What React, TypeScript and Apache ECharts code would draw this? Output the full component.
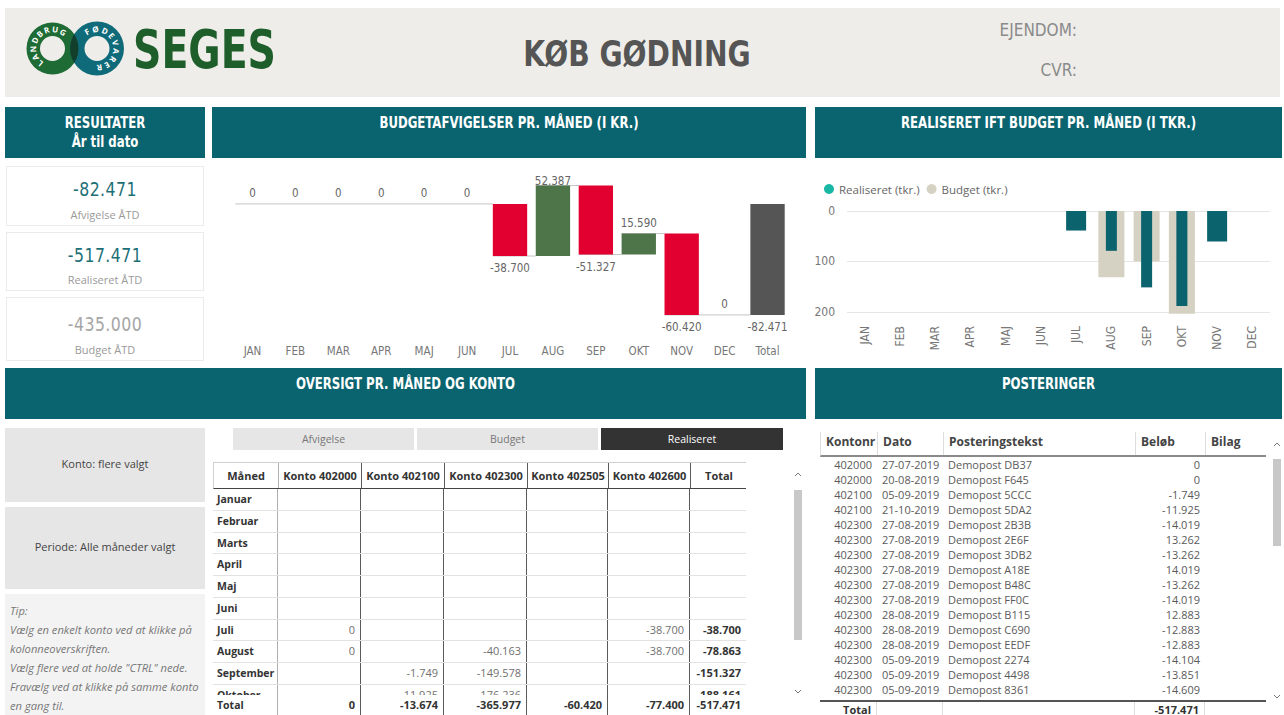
import React, { useEffect, useRef } from "react";
import * as echarts from "echarts";

// ---------- fonts / colours ----------
const NARROW = '"Liberation Sans Narrow", "Arial Narrow", "DejaVu Sans Condensed", sans-serif';
const SANS = '"Open Sans", "Noto Sans", sans-serif';
const TEAL = "#0A6470";

// ---------- data ----------
const months = ["JAN", "FEB", "MAR", "APR", "MAJ", "JUN", "JUL", "AUG", "SEP", "OKT", "NOV", "DEC"];
const totalCategory = "Total";
const deviationKr = [0, 0, 0, 0, 0, 0, -38700, 52387, -51327, 15590, -60420, 0];
const deviationTotalKr = -82471;

const realiseretTkr: (number | null)[] = [null, null, null, null, null, null, 38.7, 78.863, 151.327, 188.161, 60.42, null];
const budgetTkr: (number | null)[] = [null, null, null, null, null, null, null, 131.25, 100, 203.75, null, null];
const legendNames = ["Realiseret (tkr.)", "Budget (tkr.)"];

const kpiLabels = ["Afvigelse ÅTD", "Realiseret ÅTD", "Budget ÅTD"];
const kpiValues = [-82471, -517471, -435000];

const tableMonths = ["Januar", "Februar", "Marts", "April", "Maj", "Juni", "Juli", "August", "September", "Oktober"];
const kontoHeaders = ["Konto 402000", "Konto 402100", "Konto 402300", "Konto 402505", "Konto 402600"];
const konto402000 = [null, null, null, null, null, null, 0, 0, null, null];
const konto402100 = [null, null, null, null, null, null, null, null, -1749, -11925];
const konto402300 = [null, null, null, null, null, null, null, -40163, -149578, -176236];
const konto402505 = [null, null, null, null, null, null, null, null, null, null];
const konto402600 = [null, null, null, null, null, null, -38700, -38700, null, null];
const monthTotals = [null, null, null, null, null, null, -38700, -78863, -151327, -188161];
const kontoTotals = [0, -13674, -365977, -60420, -77400];
const grandTotal = -517471;
const viewButtons = ["Afvigelse", "Budget", "Realiseret"];

const tipLines = [
  "Tip:",
  "Vælg en enkelt konto ved at klikke på",
  "kolonneoverskriften.",
  'Vælg flere ved at holde "CTRL" nede.',
  "Fravælg ved at klikke på samme konto",
  "en gang til.",
];

const postHeaders = ["Kontonr", "Dato", "Posteringstekst", "Beløb", "Bilag"];
const postKonto = ["402000", "402000", "402100", "402100", "402300", "402300", "402300", "402300", "402300", "402300", "402300", "402300", "402300", "402300", "402300", "402300"];
const postDato = ["27-07-2019", "20-08-2019", "05-09-2019", "21-10-2019", "27-08-2019", "27-08-2019", "27-08-2019", "27-08-2019", "27-08-2019", "27-08-2019", "28-08-2019", "28-08-2019", "28-08-2019", "05-09-2019", "05-09-2019", "05-09-2019"];
const postTekst = ["Demopost DB37", "Demopost F645", "Demopost 5CCC", "Demopost 5DA2", "Demopost 2B3B", "Demopost 2E6F", "Demopost 3DB2", "Demopost A18E", "Demopost B48C", "Demopost FF0C", "Demopost B115", "Demopost C690", "Demopost EEDF", "Demopost 2274", "Demopost 4498", "Demopost 8361"];
const postBelob = [0, 0, -1749, -11925, -14019, 13262, -13262, 14019, -13262, -14019, 12883, -12883, -12883, -14104, -13851, -14609];
const postTotal = -517471;

function fmt(v: number): string {
  const r = Math.round(Math.abs(v));
  const s = String(r).replace(/\B(?=(\d{3})+(?!\d))/g, ".");
  return (v < 0 && r !== 0 ? "-" : "") + s;
}

// ---------- charts ----------
function WaterfallChart() {
  const ref = useRef<HTMLDivElement>(null);
  useEffect(() => {
    const chart = echarts.init(ref.current!, null, { renderer: "svg" });
    let cum = 0;
    const data: number[][] = deviationKr.map((d, i) => {
      const s = cum;
      cum += d;
      return [i, s, cum, d];
    });
    data.push([months.length, 0, deviationTotalKr, deviationTotalKr]);
    const lastIdx = months.length;
    chart.setOption({
      animation: false,
      grid: { left: 19, right: 17, top: 17, bottom: 26.5, outerBoundsMode: "none" },
      xAxis: {
        type: "category",
        data: [...months, totalCategory],
        axisLine: { show: false },
        axisTick: { show: false },
        axisLabel: { color: "#777", fontSize: 11.5, fontFamily: NARROW, margin: 6, interval: 0 },
      },
      yAxis: { type: "value", min: -100000, max: 20000, show: false },
      series: [
        {
          type: "custom",
          encode: { x: 0, y: [1, 2] },
          data,
          renderItem: (params: any, api: any) => {
            const i = api.value(0);
            const s = api.value(1);
            const e = api.value(2);
            const v = api.value(3);
            const band = api.size([1, 0])[0];
            const bw = band * 0.8;
            const a = api.coord([i, s]);
            const b = api.coord([i, e]);
            const x = a[0] - bw / 2;
            const top = Math.min(a[1], b[1]);
            const h = Math.abs(a[1] - b[1]);
            const isTotal = i === lastIdx;
            const color = isTotal ? "#555555" : v < 0 ? "#E1002F" : "#4E7449";
            const children: any[] = [];
            if (!isTotal) {
              children.push({
                type: "line",
                shape: { x1: x, y1: b[1], x2: x + band, y2: b[1] },
                style: { stroke: "#C4C4C4", lineWidth: 1 },
              });
            }
            if (h > 0.5) {
              children.push({ type: "rect", shape: { x, y: top, width: bw, height: h }, style: { fill: color } });
            }
            const cs = params.coordSys;
            const neg = v < 0;
            children.push({
              type: "text",
              style: {
                text: fmt(v),
                x: a[0],
                y: neg ? top + h + 6 : Math.max(top - 5, cs.y + 10),
                align: "center",
                verticalAlign: neg ? "top" : "bottom",
                fill: "#666",
                fontSize: 11.5,
                fontFamily: NARROW,
              },
            });
            return { type: "group", children };
          },
        },
      ],
    });
    return () => chart.dispose();
  }, []);
  return <div ref={ref} style={{ position: "absolute", left: 212, top: 160, width: 594, height: 205 }} />;
}

function RealBudgetChart() {
  const ref = useRef<HTMLDivElement>(null);
  useEffect(() => {
    const chart = echarts.init(ref.current!, null, { renderer: "svg" });
    const barColor = "#0B636E";
    const narrow = realiseretTkr.map((v, i) =>
      v != null && budgetTkr[i] != null ? { value: v, itemStyle: { color: barColor } } : "-"
    );
    const wide = realiseretTkr.map((v, i) =>
      v != null && budgetTkr[i] == null ? { value: v, itemStyle: { color: barColor } } : "-"
    );
    const hiddenAxis = { type: "category", data: months, show: false };
    chart.setOption({
      animation: false,
      legend: {
        data: legendNames,
        left: 4,
        top: 18,
        icon: "circle",
        itemWidth: 10,
        itemHeight: 10,
        itemGap: 7,
        textStyle: { color: "#666", fontSize: 11.5, fontFamily: SANS },
      },
      grid: { left: 32, right: 14, top: 51, bottom: 48, outerBoundsMode: "none" },
      xAxis: [
        {
          type: "category",
          data: months,
          axisLine: { show: false },
          axisTick: { show: false },
          axisLabel: { rotate: 90, color: "#777", fontSize: 12, fontFamily: NARROW, margin: 9, interval: 0 },
        },
        hiddenAxis,
        hiddenAxis,
      ],
      yAxis: {
        type: "value",
        inverse: true,
        min: 0,
        max: 210,
        interval: 100,
        axisLine: { show: false },
        axisTick: { show: false },
        axisLabel: { color: "#777", fontSize: 12, fontFamily: NARROW, margin: 12, showMaxLabel: false },
        splitLine: { show: true, showMaxLine: false, lineStyle: { color: "#E6E6E6", width: 1 } },
      },
      series: [
        { name: legendNames[1], type: "bar", xAxisIndex: 0, data: budgetTkr.map((v) => (v == null ? "-" : v)), barWidth: 26, itemStyle: { color: "#D5D2C3" } },
        { name: legendNames[0], type: "bar", xAxisIndex: 1, data: narrow, barWidth: 11, itemStyle: { color: "#19B8A5" } },
        { name: legendNames[0], type: "bar", xAxisIndex: 2, data: wide, barWidth: 20, itemStyle: { color: "#19B8A5" } },
      ],
    });
    return () => chart.dispose();
  }, []);
  return <div ref={ref} style={{ position: "absolute", left: 815, top: 160, width: 469, height: 205 }} />;
}

// ---------- static pieces ----------
function Logo() {
  const L = { cx: 52.5, cy: 48.5 };
  const R = { cx: 97, cy: 48.5 };
  const annulus = (cx: number, cy: number, ro: number, ri: number) =>
    `M${cx - ro},${cy}a${ro},${ro} 0 1,0 ${2 * ro},0a${ro},${ro} 0 1,0 ${-2 * ro},0Z M${cx - ri},${cy}a${ri},${ri} 0 1,0 ${2 * ri},0a${ri},${ri} 0 1,0 ${-2 * ri},0Z`;
  const arc = (cx: number, cy: number, r: number, a0: number, a1: number) => {
    const p = (a: number) => [cx + r * Math.cos((a * Math.PI) / 180), cy + r * Math.sin((a * Math.PI) / 180)];
    const [x0, y0] = p(a0);
    const [x1, y1] = p(a1);
    return `M${x0},${y0} A${r},${r} 0 ${a1 - a0 > 180 ? 1 : 0},1 ${x1},${y1}`;
  };
  return (
    <svg width={300} height={100} style={{ position: "absolute", left: 0, top: 0 }}>
      <defs>
        <clipPath id="lclip">
          <path d={annulus(L.cx, L.cy, 26, 12.5)} clipRule="evenodd" />
        </clipPath>
        <path id="larc" d={arc(L.cx, L.cy, 16.3, 122, 318)} />
        <path id="rarc" d={arc(R.cx, R.cy, 16.3, 232, 460)} />
      </defs>
      <path d={annulus(L.cx, L.cy, 26, 12.5)} fill="#1E6B35" fillRule="evenodd" />
      <path d={annulus(R.cx, R.cy, 27, 12.5)} fill="#0F6B79" fillRule="evenodd" />
      <path d={annulus(R.cx, R.cy, 27, 12.5)} fill="#123F2C" fillRule="evenodd" clipPath="url(#lclip)" />
      <text fill="#fff" fontSize={8} fontWeight={700} fontFamily={SANS}>
        <textPath href="#larc" textLength={54} lengthAdjust="spacing">LANDBRUG</textPath>
      </text>
      <text fill="#fff" fontSize={8} fontWeight={700} fontFamily={SANS}>
        <textPath href="#rarc" textLength={62} lengthAdjust="spacing">FØDEVARER</textPath>
      </text>
      <text x={133} y={68} fontFamily={NARROW} fontWeight={700} fontSize={54} fill="#1D5E2B" textLength={143} lengthAdjust="spacingAndGlyphs">
        SEGES
      </text>
    </svg>
  );
}

const abs = (left: number, top: number, width: number, height: number): React.CSSProperties => ({
  position: "absolute",
  left,
  top,
  width,
  height,
  boxSizing: "border-box",
});

function SectionBar({ x, y, w, lines }: { x: number; y: number; w: number; lines: string[] }) {
  return (
    <div
      style={{
        ...abs(x, y, w, 51),
        background: TEAL,
        color: "#fff",
        fontFamily: NARROW,
        fontWeight: 700,
        fontSize: 15,
        lineHeight: "19px",
        textAlign: "center",
        paddingTop: 7,
      }}
    >
      {lines.map((l) => (
        <div key={l} style={{ transform: "scaleX(0.87)", whiteSpace: "nowrap" }}>
          {l}
        </div>
      ))}
    </div>
  );
}

function Kpi({ top, height, vc, lc, value, label, color }: any) {
  return (
    <div style={{ ...abs(6, top, 198, height), border: "1px solid #EBEBEB", background: "#fff" }}>
      <div
        style={{
          position: "absolute",
          left: 0,
          right: 0,
          top: vc - top - 15,
          lineHeight: "28px",
          textAlign: "center",
          fontFamily: NARROW,
          fontSize: 20,
          letterSpacing: 0.5,
          transform: "scaleX(0.875)",
          color,
        }}
      >
        {fmt(value)}
      </div>
      <div
        style={{
          position: "absolute",
          left: 0,
          right: 0,
          top: lc - top - 10,
          lineHeight: "18px",
          textAlign: "center",
          fontFamily: SANS,
          fontSize: 11,
          color: "#9A9A9A",
        }}
      >
        {label}
      </div>
    </div>
  );
}

function Chevron({ x, y, up }: { x: number; y: number; up: boolean }) {
  return (
    <svg width={10} height={8} style={{ position: "absolute", left: x, top: y }}>
      <polyline points={up ? "2,6 5,3 8,6" : "2,2 5,5 8,2"} fill="none" stroke="#777" strokeWidth={1} />
    </svg>
  );
}

function Scrollbar({ x, top, bottom, thumbTop, thumbBottom }: any) {
  return (
    <>
      <Chevron x={x} y={top + 8} up />
      <div style={{ ...abs(x + 1, thumbTop, 8, thumbBottom - thumbTop), background: "#C8C8C8" }} />
      <Chevron x={x} y={bottom - 14} up={false} />
    </>
  );
}

function Matrix() {
  const widths = [65, 83, 83, 83, 81, 82, 56];
  const cols = [konto402000, konto402100, konto402300, konto402505, konto402600];
  const rowH = 21.75;
  const vBorder = (i: number) => (i === 0 ? "1px solid #B0B0B0" : i < widths.length - 1 ? "1px solid #5A5A5A" : "none");
  const cell = (i: number, content: any, opts: any = {}) => (
    <div
      key={i}
      style={{
        width: widths[i],
        flex: "none",
        boxSizing: "border-box",
        borderRight: vBorder(i),
        textAlign: opts.align || "right",
        paddingRight: opts.align === "center" ? 0 : 5,
        paddingLeft: opts.align === "left" ? 4 : 0,
        fontWeight: opts.bold ? 700 : 400,
        fontSize: opts.small ? 10.5 : 11,
        color: opts.bold ? "#333" : "#707070",
        whiteSpace: "nowrap",
        overflow: "hidden",
      }}
    >
      {content}
    </div>
  );
  return (
    <div style={{ position: "absolute", left: 213, top: 462, width: 533, fontFamily: SANS, fontSize: 11 }}>
      <div
        style={{
          display: "flex",
          height: 27,
          lineHeight: "26px",
          borderTop: "1px solid #D0D0D0",
          borderLeft: "1px solid #D0D0D0",
          borderBottom: "1px solid #444",
          boxSizing: "border-box",
        }}
      >
        {cell(0, "Måned", { align: "center", bold: true })}
        {kontoHeaders.map((h, i) => cell(i + 1, h, { align: "center", bold: true }))}
        {cell(6, "Total", { align: "center", bold: true })}
      </div>
      <div style={{ height: 695 - 489, overflow: "hidden" }}>
        {tableMonths.map((m, r) => (
          <div key={m} style={{ display: "flex", height: rowH, lineHeight: `${rowH - 1}px`, borderBottom: "1px solid #E2E2E2", boxSizing: "border-box" }}>
            {cell(0, m, { align: "left", bold: true, small: true })}
            {cols.map((c, i) => cell(i + 1, c[r] == null ? "" : fmt(c[r] as number)))}
            {cell(6, monthTotals[r] == null ? "" : fmt(monthTotals[r] as number), { bold: true })}
          </div>
        ))}
      </div>
      <div style={{ display: "flex", height: 20, lineHeight: "20px", background: "#fff" }}>
        {cell(0, "Total", { align: "left", bold: true, small: true })}
        {kontoTotals.map((t, i) => cell(i + 1, fmt(t), { bold: true }))}
        {cell(6, fmt(grandTotal), { bold: true })}
      </div>
    </div>
  );
}

function Postings() {
  const widths = [57, 66, 192, 70, 61];
  const aligns = ["right", "left", "left", "right", "left"];
  const headCell = (i: number, t: string) => (
    <div
      key={i}
      style={{
        width: widths[i],
        flex: "none",
        boxSizing: "border-box",
        borderRight: i < widths.length - 1 ? "1px solid #DDDDDD" : "none",
        paddingLeft: 5,
        fontWeight: 700,
        color: "#444",
        fontSize: 12,
        whiteSpace: "nowrap",
      }}
    >
      {t}
    </div>
  );
  const cell = (i: number, t: string, bold = false, border = false) => (
    <div
      key={i}
      style={{
        width: widths[i],
        flex: "none",
        boxSizing: "border-box",
        textAlign: aligns[i] as any,
        paddingLeft: aligns[i] === "left" ? 5 : 0,
        paddingRight: aligns[i] === "right" ? 5 : 0,
        borderRight: border && i < widths.length - 1 ? "1px solid #DDDDDD" : "none",
        fontWeight: bold ? 700 : 400,
        color: bold ? "#333" : "#5A5A5A",
        whiteSpace: "nowrap",
      }}
    >
      {t}
    </div>
  );
  return (
    <div style={{ position: "absolute", left: 820, top: 432, width: 446, fontFamily: SANS, fontSize: 11 }}>
      <div style={{ display: "flex", height: 25, lineHeight: "19px", borderLeft: "1px solid #DDD", borderBottom: "2px solid #8A8A8A", boxSizing: "border-box" }}>
        {postHeaders.map((h, i) => headCell(i, h))}
      </div>
      <div style={{ height: 243 }}>
        {postKonto.map((k, r) => (
          <div key={r} style={{ display: "flex", height: 15, lineHeight: "15px" }}>
            {cell(0, k)}
            {cell(1, postDato[r])}
            {cell(2, postTekst[r])}
            {cell(3, fmt(postBelob[r]))}
            {cell(4, "")}
          </div>
        ))}
      </div>
      <div style={{ display: "flex", height: 16, lineHeight: "16px", borderTop: "2px solid #555", boxSizing: "content-box" }}>
        {cell(0, "Total", true, true)}
        {cell(1, "", false, true)}
        {cell(2, "", false, true)}
        {cell(3, fmt(postTotal), true, true)}
        {cell(4, "", false, true)}
      </div>
    </div>
  );
}

export default function App() {
  useEffect(() => {
    document.body.style.margin = "0";
  }, []);
  return (
    <div style={{ position: "fixed", left: 0, top: 0, width: 1284, height: 715, background: "#fff", overflow: "hidden", fontFamily: SANS }}>
      {/* header */}
      <div style={{ ...abs(5, 8, 1275, 89), background: "#EEEDE9" }} />
      <Logo />
      <div
        style={{
          ...abs(437, 33.5, 400, 40),
          lineHeight: "40px",
          textAlign: "center",
          fontFamily: NARROW,
          fontWeight: 700,
          fontSize: 36,
          color: "#555",
          transform: "scaleX(0.87)",
        }}
      >
        KØB GØDNING
      </div>
      <div style={{ ...abs(900, 20, 177, 20), lineHeight: "20px", textAlign: "right", fontFamily: NARROW, fontSize: 17, color: "#8A8A8A" }}>EJENDOM:</div>
      <div style={{ ...abs(900, 60, 177, 20), lineHeight: "20px", textAlign: "right", fontFamily: NARROW, fontSize: 17, color: "#8A8A8A" }}>CVR:</div>

      {/* section bars */}
      <SectionBar x={5} y={107} w={200} lines={["RESULTATER", "År til dato"]} />
      <SectionBar x={212} y={107} w={594} lines={["BUDGETAFVIGELSER PR. MÅNED (I KR.)"]} />
      <SectionBar x={815} y={107} w={467} lines={["REALISERET IFT BUDGET PR. MÅNED (I TKR.)"]} />
      <SectionBar x={5} y={368} w={801} lines={["OVERSIGT PR. MÅNED OG KONTO"]} />
      <SectionBar x={815} y={368} w={467} lines={["POSTERINGER"]} />

      {/* KPI cards */}
      <Kpi top={166} height={60} vc={189} lc={215} value={kpiValues[0]} label={kpiLabels[0]} color="#1D6F77" />
      <Kpi top={232} height={59} vc={255} lc={280} value={kpiValues[1]} label={kpiLabels[1]} color="#1D6F77" />
      <Kpi top={297} height={64} vc={324} lc={350} value={kpiValues[2]} label={kpiLabels[2]} color="#A6A6A6" />

      <WaterfallChart />
      <RealBudgetChart />

      {/* filters */}
      <div style={{ ...abs(5, 428, 200, 74), background: "#E6E6E6", display: "flex", alignItems: "center", justifyContent: "center", fontSize: 11, color: "#444", paddingBottom: 4 }}>
        Konto: flere valgt
      </div>
      <div style={{ ...abs(5, 507, 200, 82), background: "#E6E6E6", display: "flex", alignItems: "center", justifyContent: "center", fontSize: 11, color: "#444", paddingBottom: 4 }}>
        Periode: Alle måneder valgt
      </div>
      <div style={{ ...abs(5, 594, 200, 121), background: "#F3F3F3", padding: "7px 0 0 5px", fontStyle: "italic", fontSize: 11.2, lineHeight: "19px", color: "#777", whiteSpace: "nowrap" }}>
        {tipLines.map((t) => (
          <div key={t}>{t}</div>
        ))}
      </div>

      {/* view buttons */}
      {viewButtons.map((b, i) => {
        const lefts = [233, 417, 601];
        const active = i === 2;
        return (
          <div
            key={b}
            style={{
              ...abs(lefts[i], 428, i === 2 ? 182 : 181, 22),
              background: active ? "#333" : "#E6E6E6",
              color: active ? "#fff" : "#777",
              fontSize: 10.5,
              lineHeight: "22px",
              textAlign: "center",
            }}
          >
            {b}
          </div>
        );
      })}

      <Matrix />
      <Scrollbar x={793} top={462} bottom={702} thumbTop={490} thumbBottom={640} />

      <Postings />
      <Scrollbar x={1272} top={432} bottom={707} thumbTop={459} thumbBottom={546} />
    </div>
  );
}
